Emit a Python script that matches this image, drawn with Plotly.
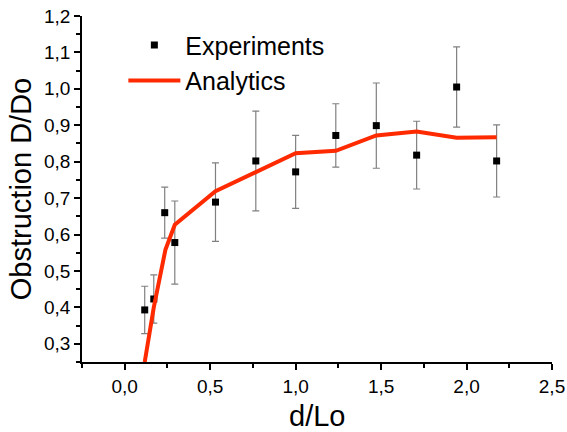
import plotly.graph_objects as go

# Experimental data
exp_x = [0.117, 0.170, 0.234, 0.293, 0.531, 0.767, 1.000, 1.235, 1.472, 1.708, 1.942, 2.176]
exp_y = [0.393, 0.423, 0.660, 0.578, 0.689, 0.802, 0.772, 0.872, 0.899, 0.818, 1.005, 0.802]
exp_err = [0.065, 0.066, 0.070, 0.114, 0.108, 0.137, 0.100, 0.087, 0.117, 0.093, 0.110, 0.099]

# Analytical curve
ana_x = [0.117, 0.170, 0.238, 0.293, 0.531, 0.767, 1.000, 1.235, 1.472, 1.708, 1.942, 2.176]
ana_y = [0.250, 0.400, 0.558, 0.627, 0.719, 0.772, 0.823, 0.830, 0.872, 0.883, 0.866, 0.867]

x_title = "d/Lo"
y_title = "Obstruction D/Do"

FONT = "Arial, Liberation Sans, sans-serif"

fig = go.Figure()
fig.add_trace(go.Scatter(
    x=exp_x, y=exp_y, mode="markers", name="Experiments",
    marker=dict(symbol="square", size=7, color="black"),
    error_y=dict(type="data", array=exp_err, visible=True,
                 color="#808080", thickness=1.2, width=3.5),
))
fig.add_trace(go.Scatter(
    x=ana_x, y=ana_y, mode="lines", name="Analytics",
    line=dict(color="#ff2a00", width=4),
))

axis_common = dict(
    showline=True, linecolor="black", linewidth=1.5,
    ticks="outside", ticklen=6, tickwidth=1.5, tickcolor="black",
    showgrid=False, zeroline=False, mirror=False, automargin=False,
    ticklabeloverflow="allow",
    tickfont=dict(family=FONT, size=19, color="black"),
)

fig.update_xaxes(
    range=[-0.25, 2.5], dtick=0.5, tick0=0, tickformat=".1f",
    minor=dict(ticks="outside", ticklen=4, tickwidth=1.5, tickcolor="black", dtick=0.25, tick0=0),
    **axis_common,
)
fig.update_yaxes(
    range=[0.25, 1.2], dtick=0.1, tick0=0, tickformat=".1f",
    minor=dict(ticks="outside", ticklen=4, tickwidth=1.5, tickcolor="black", dtick=0.05, tick0=0),
    title=dict(text=y_title, font=dict(family=FONT, size=29, color="black"), standoff=4),
    **axis_common,
)

fig.add_annotation(
    text=x_title, xref="paper", yref="paper", x=0.5, y=-0.156,
    xanchor="center", yanchor="middle", showarrow=False,
    font=dict(family=FONT, size=29, color="black"),
)

fig.update_layout(
    width=567, height=432,
    margin=dict(l=82, r=15, t=16, b=70),
    paper_bgcolor="white", plot_bgcolor="white",
    separators=", ",
    showlegend=True,
    legend=dict(
        x=0.088, y=0.982, xanchor="left", yanchor="top",
        font=dict(family=FONT, size=25, color="black"),
        bgcolor="rgba(0,0,0,0)", borderwidth=0,
        itemwidth=52, tracegroupgap=0,
    ),
)

fig.write_html(
    "out.html",
    config={"displayModeBar": False},
    post_script="document.body.style.margin='0';document.body.style.overflow='hidden';",
)
